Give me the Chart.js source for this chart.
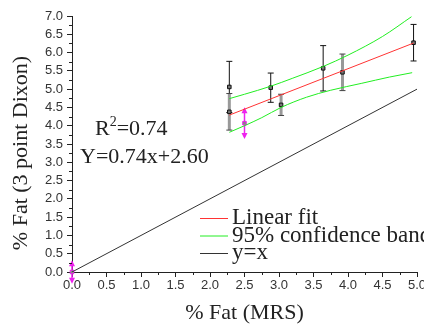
<!DOCTYPE html>
<html>
<head>
<meta charset="utf-8">
<script src="https://cdn.jsdelivr.net/npm/chart.js@4.4.1/dist/chart.umd.min.js"></script>
<style>
  html, body { margin: 0; padding: 0; background: #fff; }
  #wrap { width: 424px; height: 324px; }
</style>
</head>
<body>
<div id="wrap"><canvas id="fatChart" width="424" height="324"></canvas></div>
<script>
// puntos con barra de error negra
var blackX = [2.28, 2.88, 3.64, 4.95];
var blackY = [5.06, 5.04, 5.57, 6.27];
var blackErr = [0.70, 0.40, 0.62, 0.50];

// puntos con barra de error gris
var greyX = [2.28, 3.03, 3.92];
var greyY = [4.38, 4.57, 5.46];
var greyErr = [0.50, 0.29, 0.50];

// puntos magenta (con flechas)
var magentaX = [0, 2.50];
var magentaY = [0, 4.07];
var magentaErr = [0.27, 0.38];

// ajuste lineal y banda de confianza
var fitX = [2.28, 4.95];
var fitY = [4.29, 6.26];
var upperX = [2.28, 2.50, 2.88, 3.20, 3.64, 4.00, 4.50, 4.92];
var upperY = [4.74, 4.86, 5.08, 5.30, 5.62, 5.93, 6.44, 6.98];
var lowerX = [2.28, 2.50, 2.75, 3.03, 3.40, 3.75, 4.20, 4.60, 4.93];
var lowerY = [3.82, 4.00, 4.22, 4.50, 4.78, 4.97, 5.16, 5.33, 5.45];
var identX = [0, 5];
var identY = [0, 5];

var xTicks = [0, 0.5, 1, 1.5, 2, 2.5, 3, 3.5, 4, 4.5, 5];
var yTicks = [0, 0.5, 1, 1.5, 2, 2.5, 3, 3.5, 4, 4.5, 5, 5.5, 6, 6.5, 7];

var xTitle = '% Fat (MRS)';
var yTitle = '% Fat (3 point Dixon)';
var r2Text = '=0.74';
var eqText = 'Y=0.74x+2.60';

function toPoints(xs, ys) {
  return xs.map(function(x, i) { return { x: x, y: ys[i] }; });
}

var serif = "'Liberation Serif', 'Times New Roman', serif";

// barras de error dibujadas con las escalas del gráfico
var errorBarPlugin = {
  id: 'errorBars',
  beforeDatasetsDraw: function(chart) {
    var ctx = chart.ctx;
    var xs = chart.scales.x, ys = chart.scales.y;
    chart.data.datasets.forEach(function(ds) {
      if (!ds.errors) return;
      ds.data.forEach(function(p, i) {
        var px = xs.getPixelForValue(p.x);
        var top = ys.getPixelForValue(p.y + ds.errors[i]);
        var bot = ys.getPixelForValue(p.y - ds.errors[i]);
        ctx.save();
        ctx.strokeStyle = ds.errorColor;
        ctx.lineWidth = ds.errorWidth;
        ctx.beginPath();
        ctx.moveTo(px, top);
        ctx.lineTo(px, bot);
        ctx.stroke();
        if (ds.arrows) {
          ctx.fillStyle = ds.errorColor;
          ctx.beginPath();
          ctx.moveTo(px, top - 2); ctx.lineTo(px - 3, top + 4); ctx.lineTo(px + 3, top + 4);
          ctx.closePath(); ctx.fill();
          ctx.beginPath();
          ctx.moveTo(px, bot + 2); ctx.lineTo(px - 3, bot - 4); ctx.lineTo(px + 3, bot - 4);
          ctx.closePath(); ctx.fill();
        } else {
          ctx.strokeStyle = ds.capColor;
          ctx.lineWidth = 1;
          ctx.beginPath();
          ctx.moveTo(px - 3, top); ctx.lineTo(px + 3, top);
          ctx.moveTo(px - 3, bot); ctx.lineTo(px + 3, bot);
          ctx.stroke();
        }
        ctx.restore();
      });
    });
  }
};

// marcas menores, leyenda, textos
var decorPlugin = {
  id: 'decor',
  afterDraw: function(chart) {
    var ctx = chart.ctx;
    var area = chart.chartArea;
    var xs = chart.scales.x, ys = chart.scales.y;
    ctx.save();
    ctx.strokeStyle = '#222';
    ctx.lineWidth = 1;
    ctx.beginPath();
    for (var i = 0; i < xTicks.length - 1; i++) {
      var mx = Math.round(xs.getPixelForValue(xTicks[i] + 0.25)) + 0.5;
      ctx.moveTo(mx, area.bottom);
      ctx.lineTo(mx, area.bottom + 3);
    }
    for (var j = 0; j < yTicks.length - 1; j++) {
      var my = Math.round(ys.getPixelForValue(yTicks[j] + 0.25)) + 0.5;
      ctx.moveTo(area.left, my);
      ctx.lineTo(area.left - 3, my);
    }
    ctx.stroke();

    // ecuación (R con superíndice)
    ctx.fillStyle = '#222';
    ctx.textBaseline = 'middle';
    ctx.textAlign = 'left';
    ctx.font = '22px ' + serif;
    ctx.fillText('R', 95, 129);
    var rw = ctx.measureText('R').width;
    ctx.font = '14px ' + serif;
    ctx.fillText('2', 95 + rw, 122);
    var sw = ctx.measureText('2').width;
    ctx.font = '22px ' + serif;
    ctx.fillText(r2Text, 95 + rw + sw, 129);
    ctx.fillText(eqText, 80, 157);

    // leyenda
    ctx.font = '23px ' + serif;
    var rowY = 218;
    chart.data.datasets.forEach(function(ds) {
      if (!ds.inLegend) return;
      ctx.strokeStyle = ds.borderColor;
      ctx.lineWidth = 1;
      ctx.beginPath();
      ctx.moveTo(200, rowY + 0.5);
      ctx.lineTo(228, rowY + 0.5);
      ctx.stroke();
      ctx.fillStyle = '#222';
      ctx.fillText(ds.label, 232, rowY);
      rowY += 17.5;
    });

    // título del eje y
    ctx.font = '22px ' + serif;
    ctx.translate(21, 153);
    ctx.rotate(-Math.PI / 2);
    ctx.textAlign = 'center';
    ctx.fillText(yTitle, 0, 0);
    ctx.restore();
  }
};

var ctx = document.getElementById('fatChart').getContext('2d');

new Chart(ctx, {
  type: 'scatter',
  data: {
    datasets: [
      {
        label: 'Linear fit', inLegend: true,
        data: toPoints(fitX, fitY), showLine: true,
        borderColor: '#ff3333', borderWidth: 1, pointRadius: 0
      },
      {
        label: '95% confidence band', inLegend: true,
        data: toPoints(upperX, upperY), showLine: true, cubicInterpolationMode: 'monotone',
        borderColor: '#22ee22', borderWidth: 1, pointRadius: 0
      },
      {
        label: '95% lower',
        data: toPoints(lowerX, lowerY), showLine: true, cubicInterpolationMode: 'monotone',
        borderColor: '#22ee22', borderWidth: 1, pointRadius: 0
      },
      {
        label: 'y=x', inLegend: true,
        data: toPoints(identX, identY), showLine: true,
        borderColor: '#333333', borderWidth: 1, pointRadius: 0
      },
      {
        label: 'black',
        data: toPoints(blackX, blackY), errors: blackErr,
        errorColor: '#111', capColor: '#111', errorWidth: 1,
        pointStyle: 'rect', pointRadius: 2.5, backgroundColor: '#777', borderColor: '#111', borderWidth: 1, clip: false
      },
      {
        label: 'grey',
        data: toPoints(greyX, greyY), errors: greyErr,
        errorColor: '#999', capColor: '#444', errorWidth: 3,
        pointStyle: 'rect', pointRadius: 2.5, backgroundColor: '#777', borderColor: '#111', borderWidth: 1, clip: false
      },
      {
        label: 'magenta',
        data: toPoints(magentaX, magentaY), errors: magentaErr, arrows: true,
        errorColor: '#ee22ee', errorWidth: 1.5,
        pointStyle: 'rect', pointRadius: 2.5, backgroundColor: '#888', borderColor: '#ee22ee', borderWidth: 1, clip: false
      }
    ]
  },
  options: {
    responsive: false,
    animation: false,
    layout: { padding: { top: 16, right: 7, left: 0, bottom: 0 } },
    plugins: { legend: { display: false }, tooltip: { enabled: false } },
    scales: {
      x: {
        type: 'linear', min: 0, max: 5,
        afterFit: function(scale) { scale.height = 52; scale.paddingRight = 0; scale.paddingLeft = 0; },
        afterBuildTicks: function(scale) { scale.ticks = xTicks.map(function(v) { return { value: v }; }); },
        border: { display: true, color: '#222', width: 1 },
        grid: { drawOnChartArea: false, drawTicks: true, tickLength: 5, tickColor: '#222' },
        ticks: {
          padding: 1, color: '#333', font: { family: "'Liberation Sans', Arial, sans-serif", size: 13 },
          maxRotation: 0, autoSkip: false,
          callback: function(v) { return Number(v).toFixed(1); }
        },
        title: {
          display: true, text: xTitle, color: '#222',
          font: { family: serif, size: 22, lineHeight: 1 }, padding: { top: 0, bottom: 0 }
        }
      },
      y: {
        type: 'linear', min: 0, max: 7,
        afterFit: function(scale) { scale.width = 72; scale.paddingTop = 0; },
        afterBuildTicks: function(scale) { scale.ticks = yTicks.map(function(v) { return { value: v }; }); },
        border: { display: true, color: '#222', width: 1 },
        grid: { drawOnChartArea: false, drawTicks: true, tickLength: 5, tickColor: '#222' },
        ticks: {
          padding: 4, color: '#333', font: { family: "'Liberation Sans', Arial, sans-serif", size: 13 },
          autoSkip: false,
          callback: function(v) { return Number(v).toFixed(1); }
        }
      }
    }
  },
  plugins: [errorBarPlugin, decorPlugin]
});
</script>
</body>
</html>
